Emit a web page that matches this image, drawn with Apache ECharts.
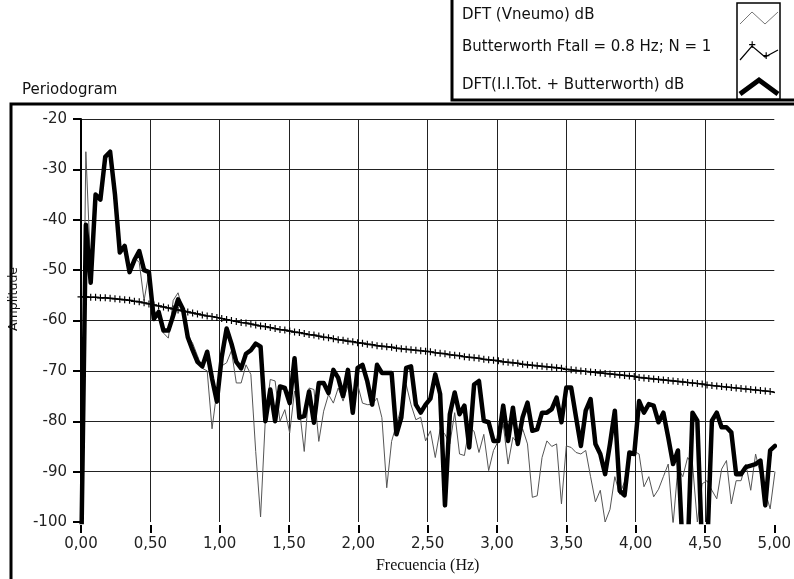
<!DOCTYPE html>
<html>
<head>
<meta charset="utf-8">
<script src="https://cdn.jsdelivr.net/npm/echarts@6/dist/echarts.min.js"></script>
<style>
html, body { margin: 0; padding: 0; background: #fff; }
#chart { width: 794px; height: 579px; }
</style>
</head>
<body>
<div id="chart"></div>
<script>
// paso en frecuencia del periodograma (Hz)
var df = 0.035;

// DFT (Vneumo) dB - linea fina gris
var dftVneumo = [
  -105, -26.5, -50, -35, -36, -28, -27, -35, -46, -45.5,
  -50, -47.5, -48.5, -56, -50.5, -58, -59, -62.5, -63.5, -56,
  -54.5, -58, -63, -64.5, -67, -69.5, -70, -81.5, -74, -69,
  -68.4, -66, -72.4, -72.4, -68.8, -70.7, -86, -99, -79.3, -71.7,
  -72, -80, -77.7, -82.3, -74, -77.4, -86, -73.4, -73.7, -84,
  -78, -74.7, -76.4, -73.4, -76, -73, -74.5, -72.7, -76.4, -76.7,
  -76.7, -75.4, -79.3, -93.2, -84, -80.6, -77.4, -72.7, -76.7, -79.7,
  -79.2, -83.9, -81.9, -87.2, -81.6, -82.6, -84.5, -78.3, -86.5, -86.8,
  -81.2, -82, -86.2, -82.6, -89.8, -85.8, -83.9, -80.6, -88.5, -83.2,
  -84.5, -81.5, -84.5, -95.1, -94.8, -87.2, -83.9, -85, -84.5, -96.4,
  -84.9, -85.2, -86.2, -86.5, -85.8, -91, -96, -93.7, -100, -97.5,
  -91, -94.5, -92, -86.2, -86, -86.5, -93, -91, -95, -93.5,
  -91, -88.5, -100.5, -89.2, -91, -87.2, -88.5, -100, -92.4, -91.8,
  -93.7, -95.4, -89.5, -87.8, -96.4, -91.8, -91.8, -88.5, -93.7, -86.5,
  -90.5, -94, -97.4, -90
];

// Butterworth Ftall = 0.8 Hz; N = 1 - linea con cruces
var butterworth = [
  -55.3, -55.3, -55.4, -55.4, -55.5, -55.5, -55.6, -55.7, -55.8, -55.9,
  -56.0, -56.2, -56.3, -56.5, -56.7, -56.9, -57.1, -57.3, -57.5, -57.7,
  -57.9, -58.1, -58.3, -58.5, -58.7, -58.9, -59.1, -59.2, -59.4, -59.6,
  -59.8, -60.0, -60.2, -60.4, -60.5, -60.7, -60.9, -61.1, -61.2, -61.4,
  -61.6, -61.8, -61.9, -62.1, -62.3, -62.4, -62.6, -62.8, -62.9, -63.1,
  -63.3, -63.4, -63.6, -63.8, -63.9, -64.1, -64.2, -64.4, -64.5, -64.7,
  -64.8, -65.0, -65.1, -65.2, -65.3, -65.5, -65.6, -65.7, -65.8, -65.9,
  -66.0, -66.1, -66.2, -66.4, -66.5, -66.6, -66.8, -66.9, -67.0, -67.2,
  -67.3, -67.4, -67.5, -67.7, -67.8, -67.9, -68.0, -68.2, -68.3, -68.4,
  -68.5, -68.7, -68.8, -68.9, -69.0, -69.1, -69.2, -69.3, -69.4, -69.5,
  -69.7, -69.8, -69.9, -70.0, -70.1, -70.2, -70.3, -70.4, -70.5, -70.6,
  -70.7, -70.8, -70.9, -71.0, -71.1, -71.3, -71.4, -71.5, -71.6, -71.7,
  -71.8, -71.9, -72.0, -72.1, -72.2, -72.3, -72.4, -72.5, -72.6, -72.8,
  -72.9, -73.0, -73.1, -73.2, -73.3, -73.4, -73.5, -73.6, -73.7, -73.8,
  -73.9, -74.0, -74.1, -74.3
];

// DFT(I.I.Tot. + Butterworth) dB - linea gruesa negra
var dftTotal = [
  -110, -41, -52.5, -35, -36, -27.5, -26.5, -35, -46.5, -45.2,
  -50.4, -48, -46.2, -50, -50.4, -59.7, -58.3, -62, -62, -59,
  -55.8, -57.7, -63.3, -65.9, -68.2, -69.1, -66.2, -71.5, -76.1, -67.2,
  -61.6, -64.6, -68.2, -69.5, -66.6, -65.9, -64.6, -65.2, -80, -73.7,
  -80, -73.1, -73.4, -76.4, -67.5, -79.3, -79, -74.1, -80.3, -72.4,
  -72.4, -74.4, -69.8, -71.4, -75, -69.8, -78.3, -69.4, -68.8, -72.1,
  -76.7, -68.8, -70.4, -70.4, -70.4, -82.6, -79.3, -69.4, -69.1, -76.7,
  -78.3, -76.7, -75.5, -70.7, -74.6, -96.7, -78.6, -74.3, -78.6, -76.9,
  -85.2, -72.7, -72, -79.9, -80.2, -83.9, -83.9, -76.9, -83.9, -77.3,
  -84.5, -79.2, -76.3, -81.9, -81.6, -78.3, -78.3, -77.6, -75.3, -80.2,
  -73.3, -73.3, -79.2, -84.9, -77.9, -75.6, -84.5, -86.5, -90.5, -84.5,
  -77.9, -93.8, -94.7, -86.2, -86.5, -76, -78.3, -76.6, -76.9, -80.2,
  -78.3, -83.2, -88.5, -85.8, -106, -106, -78.3, -79.9, -106, -106,
  -79.9, -78.3, -81.2, -81.2, -82.2, -90.5, -90.5, -89.1, -88.8, -88.5,
  -87.8, -96.7, -85.8, -84.9
];

// nombres de leyenda
var legendNames = [
  'DFT (Vneumo) dB',
  'Butterworth Ftall = 0.8 Hz; N = 1',
  'DFT(I.I.Tot. + Butterworth) dB'
];

var FONT = 'DejaVu Sans';
var PLUS = 'path://M2.5,0 L3.5,0 L3.5,2.5 L6,2.5 L6,3.5 L3.5,3.5 L3.5,6 L2.5,6 L2.5,3.5 L0,3.5 L0,2.5 L2.5,2.5 Z';

function toPairs(arr) {
  return arr.map(function(v, i) { return [i * df, v]; });
}

function fmtHz(v) {
  return v.toFixed(2).replace('.', ',');
}

var chart = echarts.init(document.getElementById('chart'));

var option = {
  animation: false,
  backgroundColor: '#fff',
  grid: {
    left: 81,
    right: 12,
    top: 119,
    bottom: 55
  },
  xAxis: {
    type: 'value',
    min: 0,
    max: 5,
    interval: 0.5,
    offset: 3,
    axisLine: { show: false },
    axisTick: { show: true, length: 8, lineStyle: { color: '#000', width: 2 } },
    axisLabel: {
      margin: 12,
      color: '#222',
      fontFamily: FONT,
      fontSize: 15,
      formatter: fmtHz
    },
    splitLine: { show: true, showMaxLine: false, lineStyle: { color: '#222', width: 1 } },
    name: 'Frecuencia (Hz)',
    nameLocation: 'middle',
    nameGap: 33,
    nameTextStyle: { fontFamily: 'Liberation Serif', fontSize: 16, color: '#111' }
  },
  yAxis: {
    type: 'value',
    min: -100,
    max: -20,
    interval: 10,
    axisLine: { show: true, lineStyle: { color: '#000', width: 2 } },
    axisTick: { show: true, length: 8, lineStyle: { color: '#000', width: 2 } },
    axisLabel: {
      margin: 14,
      color: '#222',
      fontFamily: FONT,
      fontSize: 15
    },
    splitLine: { show: true, showMinLine: false, lineStyle: { color: '#222', width: 1 } }
  },
  series: [
    {
      name: legendNames[0],
      type: 'line',
      data: toPairs(dftVneumo),
      showSymbol: false,
      lineStyle: { color: '#555', width: 1 },
      z: 2
    },
    {
      name: legendNames[1],
      type: 'line',
      data: toPairs(butterworth),
      symbol: PLUS,
      symbolSize: 7,
      itemStyle: { color: '#000' },
      lineStyle: { color: '#000', width: 1.5 },
      z: 3
    },
    {
      name: legendNames[2],
      type: 'line',
      data: toPairs(dftTotal),
      showSymbol: false,
      lineStyle: { color: '#000', width: 4.5, join: 'round', cap: 'round' },
      z: 4
    }
  ],
  graphic: [
    // marco exterior
    { type: 'rect', z: 0, silent: true,
      shape: { x: 11, y: 104, width: 820, height: 520 },
      style: { fill: 'none', stroke: '#000', lineWidth: 3 } },
    { type: 'text', left: 22, top: 83,
      style: { text: 'Periodogram', font: '15px "DejaVu Sans"', fill: '#111' } },
    // nombre del eje Y
    { type: 'text', x: 14, y: 299, rotation: Math.PI / 2,
      style: { text: 'Amplitude', font: '12.5px "DejaVu Sans"', fill: '#111',
               textAlign: 'center', textVerticalAlign: 'middle' } },
    // caja de leyenda
    { type: 'rect', z: 10, silent: true,
      shape: { x: 452, y: -4, width: 360, height: 104 },
      style: { fill: '#fff', stroke: '#000', lineWidth: 3 } },
    { type: 'rect', z: 11, silent: true,
      shape: { x: 737, y: 3, width: 43, height: 96 },
      style: { fill: '#fff', stroke: '#000', lineWidth: 1.5 } },
    { type: 'text', z: 12, left: 462, top: 8,
      style: { text: legendNames[0], font: '15px "DejaVu Sans"', fill: '#111' } },
    { type: 'text', z: 12, left: 462, top: 40,
      style: { text: legendNames[1], font: '15px "DejaVu Sans"', fill: '#111' } },
    { type: 'text', z: 12, left: 462, top: 78,
      style: { text: legendNames[2], font: '15px "DejaVu Sans"', fill: '#111' } },
    // iconos de leyenda
    { type: 'polyline', z: 12, silent: true,
      shape: { points: [[740, 24], [752, 12], [765, 24], [778, 12]] },
      style: { stroke: '#777', lineWidth: 1, fill: 'none' } },
    { type: 'polyline', z: 12, silent: true,
      shape: { points: [[740, 60], [752, 46], [765, 57], [778, 50]] },
      style: { stroke: '#000', lineWidth: 1.2, fill: 'none' } },
    { type: 'text', z: 13, left: 748, top: 40, style: { text: '+', font: 'bold 10px "DejaVu Sans"', fill: '#000' } },
    { type: 'text', z: 13, left: 762, top: 51, style: { text: '+', font: 'bold 10px "DejaVu Sans"', fill: '#000' } },
    { type: 'polyline', z: 12, silent: true,
      shape: { points: [[740, 94], [759, 80], [778, 94]] },
      style: { stroke: '#000', lineWidth: 5, fill: 'none' } }
  ]
};

chart.setOption(option);
</script>
</body>
</html>
